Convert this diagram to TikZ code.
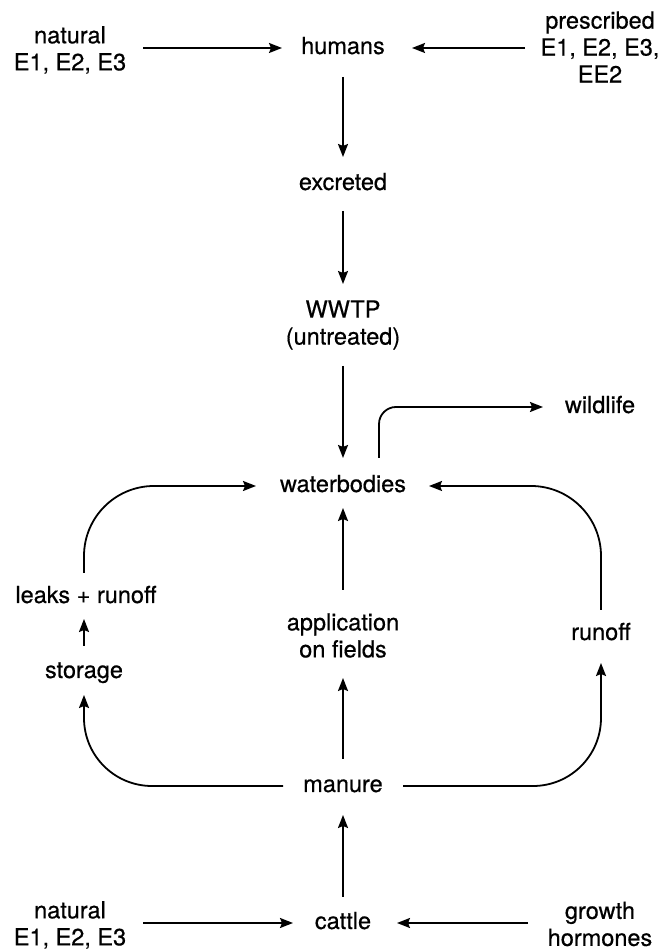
\documentclass[tikz,border=0pt]{standalone}
\usepackage{fontspec}
\setmainfont{TeX Gyre Heros}[FakeBold=0.5]
\usetikzlibrary{arrows.meta}
\begin{document}
\begin{tikzpicture}[x=1pt,y=1pt,
  lbl/.style={inner sep=0pt, font=\fontsize{23.5}{27}\selectfont, text height=15pt, text depth=3pt},
  mlbl/.style={inner sep=0pt, align=center, font=\fontsize{23.5}{27}\selectfont},
  arr/.style={line width=1.8pt, -{Stealth[length=13pt,width=10pt,inset=2pt]}}
  ]
\useasboundingbox (0,0) rectangle (669,950);
% nodes
\node[mlbl] (natT) at (70,900) {natural\\E1, E2, E3};
\node[lbl] (humans) at (343,902) {humans};
\node[mlbl] (presc) at (600,903) {prescribed\\E1, E2, E3,\\EE2};
\node[lbl] (excreted) at (343,766) {excreted};
\node[mlbl] (wwtp) at (343,625) {WWTP\\(untreated)};
\node[lbl] (waterbodies) at (343,464) {waterbodies};
\node[lbl] (wildlife) at (600,543) {wildlife};
\node[lbl] (leaks) at (86,353) {leaks + runoff};
\node[lbl] (storage) at (84,278) {storage};
\node[mlbl] (application) at (343,314.5) {application\\on fields};
\node[lbl] (runoff) at (601,316) {runoff};
\node[lbl] (manure) at (343,164) {manure};
\node[lbl] (cattle) at (343,27) {cattle};
\node[mlbl] (natB) at (70,25) {natural\\E1, E2, E3};
\node[mlbl] (growth) at (600,26) {growth\\hormones};
% connectors
\draw[arr] ([xshift=73pt]natT.center |- humans.center) -- ([xshift=-61pt]humans.center);
\draw[arr] ([xshift=-75pt]presc.center |- humans.center) -- ([xshift=69pt]humans.center);
\draw[arr] ([yshift=-29pt]humans.center) -- ([yshift=27pt]excreted.center);
\draw[arr] ([yshift=-27pt]excreted.center) -- ([yshift=41pt]wwtp.center);
\draw[arr] ([yshift=-41pt]wwtp.center) -- ([yshift=28pt]waterbodies.center);
\draw[arr, rounded corners=17pt] ([xshift=36pt,yshift=28pt]waterbodies.center) |- ([xshift=-57pt]wildlife.center);
\draw[arr, rounded corners=70pt] ([yshift=24pt]leaks.center -| storage.center) |- ([xshift=-87pt]waterbodies.center);
\draw[arr] ([yshift=26pt]storage.center) -- ([yshift=-22pt]leaks.center -| storage.center);
\draw[arr, rounded corners=68pt] ([xshift=-60pt]manure.center) -| ([yshift=-23pt]storage.center);
\draw[arr] ([yshift=27pt]manure.center) -- ([yshift=-42.5pt]application.center);
\draw[arr] ([yshift=45.5pt]application.center) -- ([yshift=-22pt]waterbodies.center);
\draw[arr, rounded corners=68pt] ([xshift=60pt]manure.center) -| ([yshift=-29pt]runoff.center);
\draw[arr, rounded corners=70pt] ([yshift=24pt]runoff.center) |- ([xshift=86pt]waterbodies.center);
\draw[arr] ([yshift=26pt]cattle.center) -- ([yshift=-29pt]manure.center);
\draw[arr] ([xshift=73pt]natB.center |- cattle.center) -- ([xshift=-50pt]cattle.center);
\draw[arr] ([xshift=-72pt]growth.center |- cattle.center) -- ([xshift=54pt]cattle.center);
\end{tikzpicture}
\end{document}
